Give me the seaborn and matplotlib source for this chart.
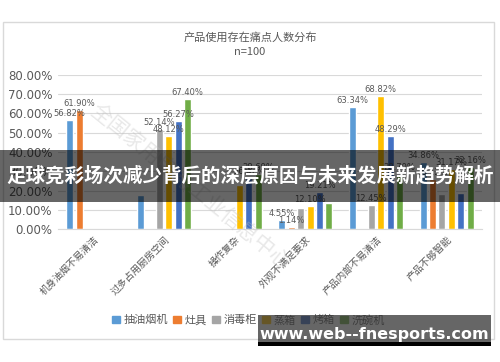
import numpy as np
import pandas as pd
import matplotlib
matplotlib.use("Agg")
import matplotlib.pyplot as plt
from matplotlib.patches import Rectangle
import seaborn as sns

categories = ["机身油烟不易清洁", "过多占用厨房空间", "操作复杂",
              "外观不满足要求", "产品内部不易清洁", "产品不够智能"]
series_names = ["抽油烟机", "灶具", "消毒柜", "蒸箱", "烤箱", "洗碗机"]
hood = [56.82, 17.50, 0, 4.55, 63.34, 34.86]
stove = [61.90, 0, 0, 1.14, 0, 26.12]
sterilizer = [0, 52.14, 0, 11.20, 12.45, 18.00]
steamer = [0, 48.12, 22.80, 12.10, 68.82, 31.17]
oven = [0, 56.27, 26.42, 19.21, 48.29, 18.50]
dishwasher = [0, 67.40, 28.69, 13.60, 28.70, 32.16]
colors = ["#5B9BD5", "#ED7D31", "#A5A5A5", "#FFC000", "#4472C4", "#70AD47"]
# labels that are hidden behind the banner in the original (series index, category index)
hidden_labels = {(0, 1), (3, 2), (2, 3), (5, 3), (2, 5), (4, 5)}

sns.set_style("white")
plt.rcParams['font.family'] = ['Noto Sans CJK SC', 'DejaVu Sans']

all_series = [hood, stove, sterilizer, steamer, oven, dishwasher]
rows = []
for name, vals in zip(series_names, all_series):
    for cat, v in zip(categories, vals):
        rows.append({"类别": cat, "产品": name, "比例": v})
df = pd.DataFrame(rows)

fig = plt.figure(figsize=(5, 3.62), dpi=100)
ax = fig.add_axes([0.116, 0.367, 0.848, 0.426])

sns.barplot(data=df, x="类别", y="比例", hue="产品", order=categories,
            hue_order=series_names, palette=colors, width=0.8, gap=0.25,
            ax=ax, legend=False, saturation=1)

text_grey = "#595959"
for si, cont in enumerate(ax.containers):
    labels = []
    for ci, b in enumerate(cont):
        h = b.get_height()
        labels.append(f"{h:.2f}%" if h > 0 and (si, ci) not in hidden_labels else "")
    ax.bar_label(cont, labels=labels, fontsize=6, color=text_grey, padding=1.5,
                 family=['DejaVu Sans'])

ax.set_ylim(0, 80)
ax.set_yticks(np.arange(0, 81, 10))
ax.set_yticklabels([f"{t:.2f}%" for t in np.arange(0, 81, 10)],
                   fontsize=8.5, color=text_grey, family=['DejaVu Sans'])
ax.yaxis.grid(True, color="#D9D9D9", linewidth=0.8)
ax.set_axisbelow(True)
ax.set_xlabel("")
ax.set_ylabel("")
ax.tick_params(axis="both", length=0)
ax.tick_params(axis="y", pad=4)
ax.set_xticks(range(len(categories)))
ax.set_xticklabels(categories, rotation=45, ha="right", rotation_mode="anchor",
                   fontsize=7, color=text_grey)
for s in ["left", "right", "top"]:
    ax.spines[s].set_visible(False)
ax.spines["bottom"].set_color("#D9D9D9")

# outer chart frame
fig.patches.append(Rectangle((3 / 500, 1 - 339 / 362), 491 / 500, 317 / 362,
                             transform=fig.transFigure, fill=False,
                             edgecolor="#D9D9D9", linewidth=1))

fig.text(0.5, 1 - 37 / 362, "产品使用存在痛点人数分布", ha="center", va="center",
         fontsize=8, color=text_grey)
fig.text(0.5, 1 - 52 / 362, "n=100", ha="center", va="center",
         fontsize=8, color=text_grey)

# watermark
fig.text(100 / 500, 1 - 100 / 362, "全国家用电器工业信息中心", rotation=-39,
         rotation_mode="anchor", ha="left", va="top", fontsize=15,
         color="#BFBFBF", alpha=0.35)

# legend
handles = [Rectangle((0, 0), 1, 1, color=c) for c in colors]
fig.legend(handles, series_names, loc="center", bbox_to_anchor=(0.497, 1 - 320 / 362),
           ncol=6, frameon=False, fontsize=8, handlelength=0.7, handleheight=0.7,
           handletextpad=0.3, columnspacing=0.5, labelcolor=text_grey)

# overlay banner
fig.patches.append(Rectangle((0, 1 - 202 / 362), 1, 52 / 362, transform=fig.transFigure,
                             facecolor="black", alpha=0.6, edgecolor="none", zorder=10))
fig.text(0.5, 1 - 176 / 362, "足球竞彩场次减少背后的深层原因与未来发展新趋势解析",
         ha="center", va="center", fontsize=14, fontweight="bold", color="white",
         zorder=11)

# site box
fig.patches.append(Rectangle((258 / 500, 1 - 342 / 362), 233 / 500, 27 / 362,
                             transform=fig.transFigure, facecolor="#333333",
                             alpha=0.75, edgecolor="none", zorder=10))
fig.patches.append(Rectangle((258 / 500, 1 - 346 / 362), 233 / 500, 4 / 362,
                             transform=fig.transFigure, facecolor="black",
                             edgecolor="none", zorder=10))
fig.text(374 / 500, 1 - 335 / 362, "www.web--fnesports.com", ha="center", va="center",
         fontsize=11.5, fontweight="bold", color="white", family=['DejaVu Sans'],
         zorder=11)

fig.savefig("out.png", dpi=100)
